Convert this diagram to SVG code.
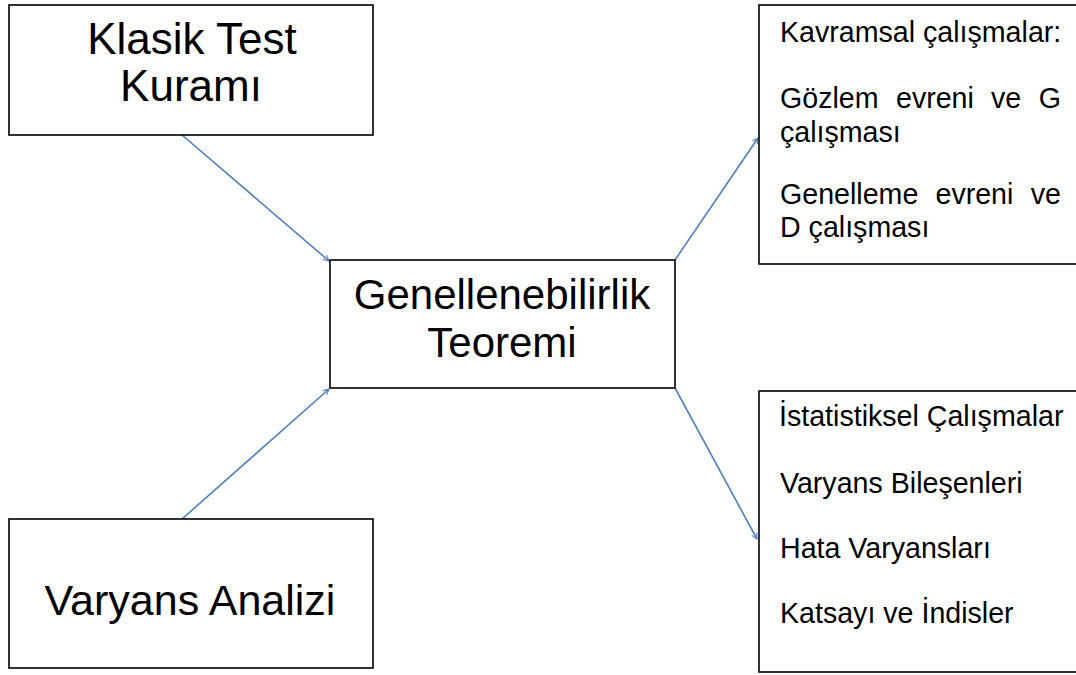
<svg xmlns="http://www.w3.org/2000/svg" width="1076" height="675" viewBox="0 0 1076 675">
<style>
.box{fill:#fff;stroke:#000;stroke-width:1.6}
.big{font-family:"Liberation Sans",Arial,sans-serif;font-size:42px;fill:#000;text-anchor:middle}
.sm{font-family:"Liberation Sans",Arial,sans-serif;font-size:28.6px;fill:#000}
.end{text-anchor:end}
.con{stroke:#4F81BD;stroke-width:1.6;fill:none;marker-end:url(#ah)}
</style>
<defs>
<marker id="ah" viewBox="0 0 10 10" refX="9" refY="5" markerWidth="7" markerHeight="7" markerUnits="userSpaceOnUse" orient="auto">
<path d="M1,1 L9,5 L1,9" fill="none" stroke="#4F81BD" stroke-width="1.6"/>
</marker>
</defs>
<rect width="1076" height="675" fill="#fff"/>
<g id="connectors">
<line class="con" x1="182" y1="135" x2="329" y2="261"/>
<line class="con" x1="182" y1="519" x2="329" y2="389"/>
<line class="con" x1="675" y1="260" x2="758" y2="138"/>
<line class="con" x1="675" y1="388" x2="757" y2="539"/>
</g>
<g id="klasik">
<rect class="box" x="9" y="5" width="364" height="130"/>
<text class="big" x="192" y="54" style="font-size:44px">Klasik Test</text>
<text class="big" x="191" y="101" style="font-size:44px">Kuramı</text>
</g>
<g id="varyans">
<rect class="box" x="9" y="519" width="364" height="149"/>
<text class="big" x="190" y="615" style="font-size:43px">Varyans Analizi</text>
</g>
<g id="genel">
<rect class="box" x="330" y="260" width="345" height="128"/>
<text class="big" x="502" y="309">Genellenebilirlik</text>
<text class="big" x="502" y="357">Teoremi</text>
</g>
<g id="kavramsal">
<rect class="box" x="759" y="5" width="330" height="259"/>
<text class="sm" x="780" y="42">Kavramsal çalışmalar:</text>
<text class="sm" x="780" y="108">Gözlem</text>
<text class="sm" x="896" y="108">evreni</text>
<text class="sm" x="991" y="108">ve</text>
<text class="sm end" x="1061" y="108">G</text>
<text class="sm" x="780" y="142">çalışması</text>
<text class="sm" x="780" y="204">Genelleme</text>
<text class="sm" x="935.5" y="204">evreni</text>
<text class="sm end" x="1061" y="204">ve</text>
<text class="sm" x="780" y="237">D çalışması</text>
</g>
<g id="istatistiksel">
<rect class="box" x="759" y="391" width="330" height="281"/>
<text class="sm" x="779" y="426">İstatistiksel Çalışmalar</text>
<text class="sm" x="780" y="493">Varyans Bileşenleri</text>
<text class="sm" x="780" y="558">Hata Varyansları</text>
<text class="sm" x="780" y="623">Katsayı ve İndisler</text>
</g>
</svg>
